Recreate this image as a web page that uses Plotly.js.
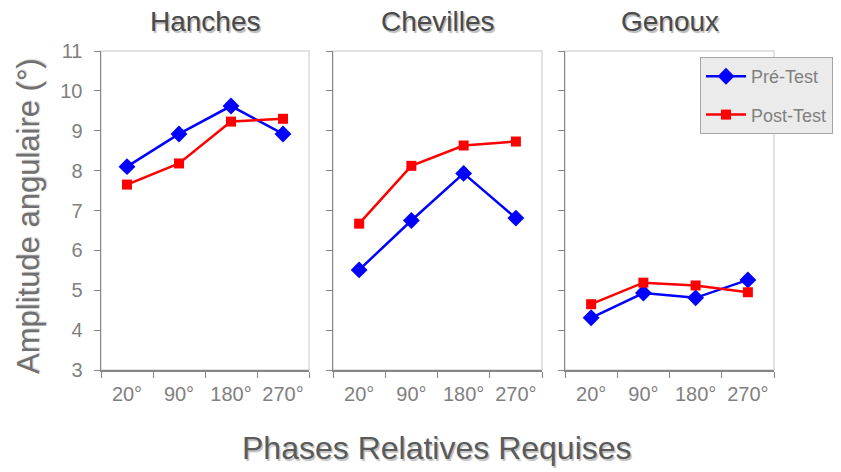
<!DOCTYPE html>
<html><head><meta charset="utf-8">
<script src="https://cdn.plot.ly/plotly-3.0.1.min.js"></script>
<style>html,body{margin:0;padding:0;background:#fff}#c{width:841px;height:472px}</style>
</head><body><div id="c"></div>
<script>
const phases = ["20°", "90°", "180°", "270°"];
const panels = ["Hanches", "Chevilles", "Genoux"];
const preHanches = [8.1, 8.92, 9.62, 8.92];
const postHanches = [7.65, 8.18, 9.23, 9.3];
const preChevilles = [5.51, 6.75, 7.93, 6.81];
const postChevilles = [6.67, 8.12, 8.63, 8.73];
const preGenoux = [4.31, 4.93, 4.81, 5.26];
const postGenoux = [4.65, 5.19, 5.12, 4.95];
const yTicks = [3, 4, 5, 6, 7, 8, 9, 10, 11];

const pre = [preHanches, preChevilles, preGenoux];
const post = [postHanches, postChevilles, postGenoux];
const W = 841, H = 472;
const xd = [[101/W, 309/W], [333/W, 542/W], [565/W, 774/W]];
const yd = [(H-370)/H, (H-51)/H];
const font = "Liberation Sans, Arial, sans-serif";
const traces = [];
const layout = {
  width: W, height: H, margin: {l:0, r:0, t:0, b:0},
  paper_bgcolor: "#fff", plot_bgcolor: "#fff",
  font: {family: font, color: "#808080"},
  showlegend: true,
  legend: {x: 700/W, y: 1-57/H, xanchor: "left", yanchor: "top",
    bgcolor: "#ebebeb", bordercolor: "#a6a6a6", borderwidth: 1,
    font: {size: 18, color: "#808080", family: font}, tracegroupgap: 12, itemwidth: 40},
  shapes: [], annotations: []
};
for (let i = 0; i < 3; i++) {
  const s = i === 0 ? "" : String(i+1);
  traces.push({x: phases, y: pre[i], name: "Pré-Test", type: "scatter", mode: "lines+markers",
    xaxis: "x"+s, yaxis: "y"+s, showlegend: i === 0, legendgroup: "pre",
    line: {color: "#0000ff", width: 2.5}, marker: {symbol: "diamond", size: 13, color: "#0000ff"}});
  traces.push({x: phases, y: post[i], name: "Post-Test", type: "scatter", mode: "lines+markers",
    xaxis: "x"+s, yaxis: "y"+s, showlegend: i === 0, legendgroup: "post",
    line: {color: "#ff0000", width: 2.5}, marker: {symbol: "square", size: 10, color: "#ff0000"}});
  layout["xaxis"+s] = {domain: xd[i], anchor: "y"+s, type: "category", range: [-0.5, 3.5],
    tickson: "boundaries", ticks: "outside", ticklen: 6, tickcolor: "#868686",
    showline: true, linecolor: "#868686", linewidth: 1.5, showgrid: false, zeroline: false,
    ticklabelstandoff: 5,
    tickfont: {size: 20, color: "#808080", family: font}, fixedrange: true};
  layout["yaxis"+s] = {domain: yd, anchor: "x"+s, range: [3, 11], tickvals: yTicks,
    ticks: "outside", ticklen: 6, tickcolor: "#868686", showline: true, linecolor: "#868686",
    linewidth: 1.5, showgrid: false, zeroline: false, showticklabels: i === 0,
    ticklabelstandoff: 7,
    tickfont: {size: 20, color: "#808080", family: font}, fixedrange: true};
  layout.shapes.push({type: "rect", xref: "x"+s+" domain", yref: "y"+s+" domain",
    x0: 0, x1: 1, y0: 0, y1: 1, line: {color: "#d9d9d9", width: 1.5}, layer: "below"});
  const cx = (xd[i][0]+xd[i][1])/2;
  layout.annotations.push({text: panels[i], xref: "paper", yref: "paper",
    x: cx, y: 1-22/H, xanchor: "center", yanchor: "middle",
    showarrow: false, font: {size: 28, color: "#4a4a4a", family: font,
    shadow: "1.5px 1.5px 1px #b8b8b8"}});
}
layout.annotations.push({text: "Amplitude angulaire (°)", xref: "paper", yref: "paper",
  x: 28/W, y: 1-216/H, textangle: -90, showarrow: false, xanchor: "center", yanchor: "middle",
  font: {size: 31, color: "#707070", family: font, shadow: "1px 1px 1px #d0d0d0"}});
layout.annotations.push({text: "Phases Relatives Requises", xref: "paper", yref: "paper",
  x: 437/W, y: 1-448/H, showarrow: false, xanchor: "center", yanchor: "middle",
  font: {size: 32, color: "#5a5a5a", family: font, shadow: "1.5px 1.5px 1px #c0c0c0"}});
Plotly.newPlot("c", traces, layout, {displayModeBar: false, staticPlot: true});
</script></body></html>
